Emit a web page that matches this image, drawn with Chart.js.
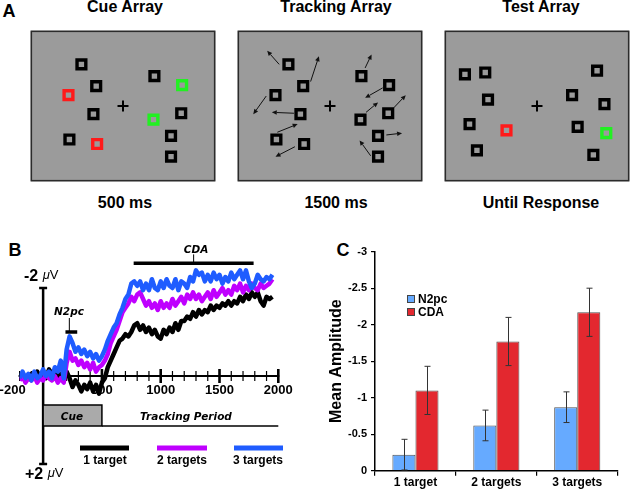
<!DOCTYPE html>
<html>
<head>
<meta charset="utf-8">
<script src="https://cdn.jsdelivr.net/npm/chart.js@4.4.1/dist/chart.umd.min.js"></script>
<style>
body { margin:0; background:#fff; width:640px; height:493px; position:relative; overflow:hidden; font-family:'Liberation Sans', Arial, sans-serif; color:#000; }
canvas { position:absolute; }
.t { position:absolute; transform:translate(-50%,-50%); white-space:nowrap; line-height:1; }
.l { position:absolute; transform:translateY(-50%); white-space:nowrap; line-height:1; }
.panel { font-weight:bold; font-size:18px; }
.head { font-weight:bold; font-size:16px; }
.it { font-family:'DejaVu Sans', sans-serif; font-style:italic; font-weight:bold; font-size:10.5px; }
.leg { font-weight:bold; font-size:12px; }
.uv b { font-size:16px; }
.uv span { font-size:13px; position:relative; top:-2px; }
</style>
</head>
<body>
<div class="t panel" style="left:9px;top:11px">A</div>
<div class="t head" style="left:125px;top:7px">Cue Array</div>
<div class="t head" style="left:336px;top:7px">Tracking Array</div>
<div class="t head" style="left:541px;top:7px">Test Array</div>
<div class="t head" style="left:125px;top:203px">500 ms</div>
<div class="t head" style="left:336px;top:203px">1500 ms</div>
<div class="t head" style="left:541px;top:203px">Until Response</div>

<canvas id="cueArr" width="204" height="170" style="left:21px;top:21px"></canvas>
<canvas id="trackArr" width="204" height="170" style="left:228px;top:21px"></canvas>
<canvas id="testArr" width="204" height="170" style="left:435px;top:21px"></canvas>

<div class="t panel" style="left:15px;top:250px">B</div>
<div class="t panel" style="left:343px;top:250px">C</div>

<canvas id="erp" width="330" height="253" style="left:0;top:240px"></canvas>
<canvas id="amp" width="320" height="253" style="left:320px;top:240px"></canvas>

<div class="l uv" style="left:24px;top:276px"><b>-2</b> <span><i>μ</i>V</span></div>
<div class="l uv" style="left:25px;top:474px"><b>+2</b> <span><i>μ</i>V</span></div>
<div class="t it" style="left:196px;top:249px">CDA</div>
<div class="t it" style="left:69px;top:311px">N2pc</div>
<div class="t it" style="left:72px;top:416px">Cue</div>
<div class="t it" style="left:186px;top:416px">Tracking Period</div>
<div class="t leg" style="left:105px;top:460px">1 target</div>
<div class="t leg" style="left:182px;top:460px">2 targets</div>
<div class="t leg" style="left:258px;top:460px">3 targets</div>

<script>
Chart.defaults.font.family = "'Liberation Sans', Arial, sans-serif";
Chart.defaults.color = '#000';

// ---- panel A: display layout (degrees, fixation at 0,0) ----
const cueX = [-4.5, -2.9, -5.9, -3.2, -5.8, -2.8, 3.4, 6.4, 3.3, 6.3, 5.2, 5.2];
const cueY = [4.6, 2.2, 1.2, -0.9, -3.7, -4.2, 3.3, 2.3, -1.5, -0.8, -3.3, -5.6];
const cueColor = ['#000', '#000', '#ff1a1a', '#000', '#000', '#ff1a1a', '#000', '#22f022', '#22f022', '#000', '#000', '#000'];

const arrowFromX = [-5.5, -2.1, -6.9, -3.9, -5.7, -3.8, 3.8, 5.7, 3.9, 6.9, 6.1, 4.4];
const arrowFromY = [4.6, 2.7, 1.1, -0.8, -2.9, -4.5, 4.2, 2.0, -0.7, -0.2, -3.2, -5.5];
const arrowToX = [-6.8, -1.2, -8.3, -6.3, -3.5, -5.9, 4.5, 3.8, 5.2, 8.2, 7.8, 3.2];
const arrowToY = [6.1, 5.5, -0.9, -0.7, -2.0, -5.6, 5.7, 0.9, 0.4, 1.2, -3.0, -3.8];

const testX = [-7.8, -5.6, -5.3, -7.3, -3.3, -6.5, 6.5, 3.8, 7.3, 4.4, 7.5, 6.1];
const testY = [3.5, 3.7, 0.7, -2.0, -2.7, -4.9, 3.9, 1.2, 0.2, -2.3, -3.0, -5.4];
const testColor = ['#000', '#000', '#000', '#000', '#ff1a1a', '#000', '#000', '#000', '#000', '#000', '#22f022', '#000'];

// ---- panel B: contralateral - ipsilateral waveforms (uV) ----
const times = [-200, -175, -150, -125, -100, -75, -50, -25, 0, 25, 50, 75, 100, 125, 150, 175,
  200, 225, 250, 275, 300, 325, 350, 375, 400, 425, 450, 475, 500, 525, 550, 575,
  600, 625, 650, 675, 700, 725, 750, 775, 800, 825, 850, 875, 900, 925, 950, 975,
  1000, 1025, 1050, 1075, 1100, 1125, 1150, 1175, 1200, 1225, 1250, 1275, 1300, 1325, 1350, 1375,
  1400, 1425, 1450, 1475, 1500, 1525, 1550, 1575, 1600, 1625, 1650, 1675, 1700, 1725, 1750, 1775,
  1800, 1825, 1850, 1875, 1900, 1925, 1950];
const oneTarget = [0.05, -0.05, 0.1, 0.0, -0.05, 0.05, -0.1, 0.05,
  -0.05, 0.05, -0.15, -0.05, -0.1, 0.0, -0.05, 0.1,
  -0.1, 0.05, 0.25, 0.1, 0.2, 0.35, 0.2, 0.3,
  0.15, 0.35, 0.2, 0.4, 0.15, 0.05, -0.2, -0.35,
  -0.5, -0.65, -0.8, -0.85, -0.95, -0.9, -1.0, -1.15,
  -1.2, -1.05, -1.15, -1.0, -1.1, -0.95, -1.05, -0.9,
  -0.85, -1.05, -0.95, -1.1, -1.0, -1.2, -1.05, -1.25,
  -1.25, -1.35, -1.3, -1.45, -1.35, -1.5, -1.4, -1.5,
  -1.45, -1.6, -1.5, -1.6, -1.55, -1.65, -1.6, -1.7,
  -1.6, -1.7, -1.65, -1.8, -1.7, -1.85, -1.75, -1.9,
  -1.8, -1.9, -1.7, -1.6, -1.8, -1.75, -1.8];
const twoTargets = [0.1, 0.0, 0.15, 0.05, 0.1, 0.0, 0.15, 0.05,
  0.1, -0.05, 0.05, 0.1, 0.0, 0.15, 0.05, 0.15,
  -0.3, -0.55, -0.35, -0.4, -0.25, -0.35, -0.2, -0.3,
  -0.15, -0.3, -0.1, -0.2, -0.25, -0.35, -0.5, -0.75,
  -0.9, -1.05, -1.25, -1.45, -1.55, -1.65, -1.8, -1.7,
  -1.85, -1.9, -1.75, -1.6, -1.7, -1.55, -1.65, -1.5,
  -1.7, -1.55, -1.65, -1.55, -1.75, -1.6, -1.7, -1.8,
  -1.65, -1.85, -1.75, -1.9, -1.75, -1.85, -1.7, -1.8,
  -1.9, -1.75, -1.95, -1.8, -1.9, -2.0, -1.85, -1.95,
  -1.85, -2.05, -1.95, -2.1, -1.9, -2.05, -1.95, -2.1,
  -2.0, -1.95, -2.1, -2.0, -2.05, -2.1, -2.2];
const threeTargets = [0.05, -0.1, 0.05, -0.05, 0.1, -0.1, 0.05, 0.0,
  -0.15, 0.0, -0.1, 0.05, -0.2, -0.1, -0.35, 0.05,
  -0.6, -0.9, -0.75, -0.55, -0.65, -0.5, -0.6, -0.45,
  -0.55, -0.4, -0.5, -0.35, -0.45, -0.6, -0.8, -0.95,
  -1.1, -1.2, -1.4, -1.55, -1.75, -1.85, -2.1, -2.15,
  -2.05, -2.15, -1.95, -2.1, -1.95, -2.2, -2.0, -1.95,
  -2.15, -2.0, -2.2, -2.05, -2.0, -2.2, -1.95, -2.15,
  -2.1, -2.0, -2.25, -2.15, -2.4, -2.3, -2.35, -2.15,
  -2.3, -2.15, -2.35, -2.2, -2.3, -2.1, -2.25, -2.15,
  -2.35, -2.2, -2.3, -2.4, -2.2, -2.4, -2.15, -2.0,
  -2.1, -2.3, -2.2, -2.15, -2.25, -2.2, -2.3];
const timeLabels = [-200, 500, 1000, 1500, 2000];
const n2pcWindow = [190, 290];
const cdaWindow = [770, 1790];
const cueEnd = 500;

// ---- panel C: mean amplitudes ----
const conditions = ['1 target', '2 targets', '3 targets'];
const n2pcMean = [-0.22, -0.62, -0.87];
const n2pcErr = [0.21, 0.21, 0.21];
const cdaMean = [-1.10, -1.77, -2.17];
const cdaErr = [0.33, 0.33, 0.33];

// gray display background
const boxBg = {
  id: 'boxBg',
  beforeDraw(chart) {
    const {ctx, chartArea: a} = chart;
    ctx.save();
    ctx.fillStyle = '#9b9b9b';
    ctx.fillRect(a.left, a.top, a.width, a.height);
    ctx.strokeStyle = '#2b2b2b';
    ctx.lineWidth = 1.5;
    ctx.strokeRect(a.left + 0.75, a.top + 0.75, a.width - 1.5, a.height - 1.5);
    ctx.restore();
  }
};

const motionArrows = {
  id: 'motionArrows',
  afterDatasetsDraw(chart) {
    const {ctx, scales: {x, y}} = chart;
    ctx.save();
    ctx.strokeStyle = '#111';
    ctx.fillStyle = '#111';
    ctx.lineWidth = 1;
    arrowFromX.forEach((fx, i) => {
      const x1 = x.getPixelForValue(fx), y1 = y.getPixelForValue(arrowFromY[i]);
      const x2 = x.getPixelForValue(arrowToX[i]), y2 = y.getPixelForValue(arrowToY[i]);
      const ang = Math.atan2(y2 - y1, x2 - x1);
      const bx = x2 - 5 * Math.cos(ang), by = y2 - 5 * Math.sin(ang);
      ctx.beginPath();
      ctx.moveTo(x1, y1);
      ctx.lineTo(bx, by);
      ctx.stroke();
      ctx.beginPath();
      ctx.moveTo(x2, y2);
      ctx.lineTo(bx - 2.3 * Math.sin(ang), by + 2.3 * Math.cos(ang));
      ctx.lineTo(bx + 2.3 * Math.sin(ang), by - 2.3 * Math.cos(ang));
      ctx.closePath();
      ctx.fill();
    });
    ctx.restore();
  }
};

function makeArray(id, xs, ys, colors, extra) {
  const pts = xs.map((v, i) => ({x: v, y: ys[i]}));
  return new Chart(document.getElementById(id), {
    type: 'scatter',
    data: {
      datasets: [
        {data: pts, pointStyle: 'rect', pointRadius: 6.2, pointBorderWidth: 3.4,
         pointBorderColor: colors, pointBackgroundColor: 'rgba(0,0,0,0)'},
        {data: [{x: 0, y: 0}], pointStyle: 'cross', pointRadius: 5.5, pointBorderWidth: 2,
         pointBorderColor: '#000'}
      ]
    },
    options: {
      responsive: false, animation: false, events: [],
      layout: {padding: 0},
      plugins: {legend: {display: false}, tooltip: {enabled: false}},
      scales: {
        x: {display: false, min: -10, max: 10},
        y: {display: false, min: -8.33, max: 8.33}
      }
    },
    plugins: extra ? [boxBg, extra] : [boxBg]
  });
}

makeArray('cueArr', cueX, cueY, cueColor);
makeArray('trackArr', cueX, cueY, cueX.map(() => '#000'), motionArrows);
makeArray('testArr', testX, testY, testColor);

// axes, timeline and legend for the ERP panel
const erpDecor = {
  id: 'erpDecor',
  beforeDatasetsDraw(chart) {
    const {ctx, scales: {x, y}} = chart;
    const y0 = y.getPixelForValue(0);
    const x0 = x.getPixelForValue(0);
    ctx.save();
    ctx.strokeStyle = '#000';
    ctx.fillStyle = '#000';
    // time axis
    ctx.lineWidth = 2.2;
    ctx.beginPath();
    ctx.moveTo(x.getPixelForValue(-200) - 1, y0);
    ctx.lineTo(x.getPixelForValue(2000) + 1, y0);
    ctx.stroke();
    for (let t = -200; t <= 2000; t += 100) {
      const major = t > 0 && t % 500 === 0;
      const h = major ? 7 : 5;
      const px = x.getPixelForValue(t);
      ctx.lineWidth = major ? 2.6 : 1.2;
      ctx.beginPath();
      ctx.moveTo(px, y0 - h);
      ctx.lineTo(px, y0 + h);
      ctx.stroke();
    }
    ctx.font = "bold 13px 'Liberation Sans', Arial, sans-serif";
    ctx.textAlign = 'center';
    ctx.textBaseline = 'middle';
    timeLabels.forEach((t, i) => {
      const px = x.getPixelForValue(t) + (i === 0 ? -7 : 0);
      ctx.fillText(String(t), px, y0 + 14);
    });
    // amplitude axis
    const yTop = y.getPixelForValue(-2), yBot = y.getPixelForValue(2);
    ctx.lineWidth = 2.5;
    ctx.beginPath();
    ctx.moveTo(x0, yTop);
    ctx.lineTo(x0, yBot);
    ctx.moveTo(x0 - 4, yTop);
    ctx.lineTo(x0 + 4, yTop);
    ctx.moveTo(x0 - 4, yBot);
    ctx.lineTo(x0 + 4, yBot);
    ctx.stroke();
    // cue / tracking timeline
    const xc = x.getPixelForValue(cueEnd), xe = x.getPixelForValue(2000);
    ctx.fillStyle = '#aaaaaa';
    ctx.fillRect(x0, y0 + 29, xc - x0, 21);
    ctx.lineWidth = 1.5;
    ctx.strokeRect(x0, y0 + 29, xc - x0, 21);
    ctx.beginPath();
    ctx.moveTo(xc, y0 + 50);
    ctx.lineTo(xe, y0 + 50);
    ctx.stroke();
    // component windows
    const yC = y.getPixelForValue(-2.56), yN = y.getPixelForValue(-1.0);
    ctx.lineWidth = 3.5;
    ctx.beginPath();
    ctx.moveTo(x.getPixelForValue(cdaWindow[0]), yC);
    ctx.lineTo(x.getPixelForValue(cdaWindow[1]), yC);
    ctx.moveTo(x.getPixelForValue(n2pcWindow[0]), yN);
    ctx.lineTo(x.getPixelForValue(n2pcWindow[1]), yN);
    ctx.stroke();
    ctx.lineWidth = 1;
    const cm = x.getPixelForValue((cdaWindow[0] + cdaWindow[1]) / 2);
    const nm = x.getPixelForValue((n2pcWindow[0] + n2pcWindow[1]) / 2) - 2;
    ctx.beginPath();
    ctx.moveTo(cm, yC);
    ctx.lineTo(cm, yC - 9);
    ctx.moveTo(nm, yN);
    ctx.lineTo(nm, yN - 14);
    ctx.stroke();
    // legend swatches
    const spans = [[80, 129], [157, 207], [234, 283]];
    ctx.lineWidth = 5;
    chart.data.datasets.forEach((ds, i) => {
      ctx.strokeStyle = ds.borderColor;
      ctx.beginPath();
      ctx.moveTo(spans[i][0], y0 + 72);
      ctx.lineTo(spans[i][1], y0 + 72);
      ctx.stroke();
    });
    ctx.restore();
  }
};

const wave = (label, vals, color, order) => ({
  label, order, borderColor: color, borderWidth: 4.5, pointRadius: 0, tension: 0,
  borderJoinStyle: 'round', data: times.map((t, i) => ({x: t, y: vals[i]}))
});

new Chart(document.getElementById('erp'), {
  type: 'line',
  data: {
    datasets: [
      wave('1 target', oneTarget, '#000000', 2),
      wave('2 targets', twoTargets, '#bf00ff', 1),
      wave('3 targets', threeTargets, '#1f5cff', 0)
    ]
  },
  options: {
    responsive: false, animation: false, events: [],
    layout: {padding: {left: 19.6, right: 51.7, top: 4, bottom: 7}},
    plugins: {legend: {display: false}, tooltip: {enabled: false}},
    scales: {
      x: {type: 'linear', display: false, min: -200, max: 2000},
      y: {display: false, min: -3, max: 2.5, reverse: true}
    }
  },
  plugins: [erpDecor]
});

// error bars + legend for the bar panel
const errorBars = {
  id: 'errorBars',
  afterDatasetsDraw(chart) {
    const {ctx, scales: {y}} = chart;
    const errs = [n2pcErr, cdaErr];
    ctx.save();
    ctx.strokeStyle = '#333';
    ctx.lineWidth = 1;
    chart.data.datasets.forEach((ds, di) => {
      chart.getDatasetMeta(di).data.forEach((bar, i) => {
        const v = ds.data[i], e = errs[di][i];
        const a = y.getPixelForValue(v - e), b = y.getPixelForValue(v + e);
        const bx = Math.round(bar.x) + 0.5;
        ctx.beginPath();
        ctx.moveTo(bx, a);
        ctx.lineTo(bx, b);
        ctx.moveTo(bx - 3, a);
        ctx.lineTo(bx + 3, a);
        ctx.moveTo(bx - 3, b);
        ctx.lineTo(bx + 3, b);
        ctx.stroke();
      });
    });
    // legend
    ctx.font = "bold 12px 'Liberation Sans', Arial, sans-serif";
    ctx.textBaseline = 'middle';
    chart.data.datasets.forEach((ds, i) => {
      const top = 55 + i * 13;
      ctx.fillStyle = ds.backgroundColor;
      ctx.fillRect(87, top, 8, 8);
      ctx.strokeStyle = '#444';
      ctx.strokeRect(87.5, top + 0.5, 7, 7);
      ctx.fillStyle = '#000';
      ctx.fillText(ds.label, 98, top + 4.5);
    });
    ctx.restore();
  }
};

new Chart(document.getElementById('amp'), {
  type: 'bar',
  data: {
    labels: conditions,
    datasets: [
      {label: 'N2pc', data: n2pcMean, backgroundColor: '#66aaff', borderColor: '#505050', borderWidth: 1},
      {label: 'CDA', data: cdaMean, backgroundColor: '#e3282f', borderColor: '#505050', borderWidth: 1}
    ]
  },
  options: {
    responsive: false, animation: false, events: [],
    layout: {padding: {top: 11.7, right: 22.3, left: 0, bottom: 0}},
    datasets: {bar: {barPercentage: 1, categoryPercentage: 0.57}},
    plugins: {legend: {display: false}, tooltip: {enabled: false}},
    scales: {
      x: {
        grid: {offset: true, drawOnChartArea: false, color: '#000', tickLength: 5, lineWidth: 1.2},
        border: {color: '#000', width: 1.5},
        ticks: {color: '#000', padding: 0, font: {size: 12, weight: 'bold'}},
        afterFit: s => { s.height = 22.3; }
      },
      y: {
        reverse: true, min: -3, max: 0,
        grid: {drawOnChartArea: false, color: '#000', tickLength: 4, lineWidth: 1.2},
        border: {color: '#000', width: 1.5},
        ticks: {stepSize: 0.5, color: '#000', padding: 4, font: {size: 11, weight: 'bold'},
                callback: v => String(Math.round(v * 10) / 10)},
        title: {display: true, text: 'Mean Amplitude', color: '#000', padding: {top: 7, bottom: 0},
                font: {size: 16, weight: 'bold'}},
        afterFit: s => { s.width = 55; }
      }
    }
  },
  plugins: [errorBars]
});
</script>
</body>
</html>
